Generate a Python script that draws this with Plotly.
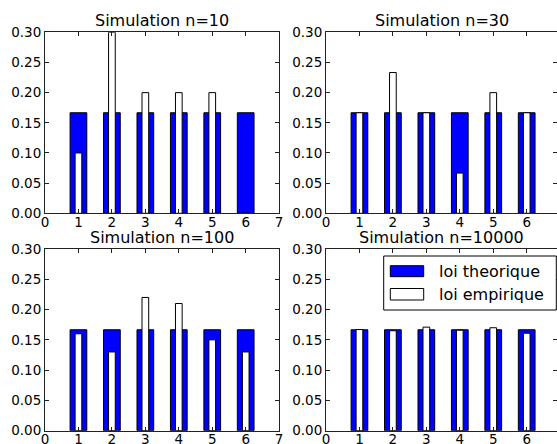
import plotly.graph_objects as go

# ---- data ----
faces = [1, 2, 3, 4, 5, 6]
theorique = [1/6] * 6
titles = ["Simulation n=10", "Simulation n=30", "Simulation n=100", "Simulation n=10000"]
emp_10 = [0.10, 0.30, 0.20, 0.20, 0.20, 0.00]
emp_30 = [5/30, 7/30, 5/30, 2/30, 6/30, 5/30]
emp_100 = [0.16, 0.13, 0.22, 0.21, 0.15, 0.13]
emp_10000 = [0.167, 0.165, 0.171, 0.166, 0.170, 0.161]
empiriques = [emp_10, emp_30, emp_100, emp_10000]
y_ticks = [0.0, 0.05, 0.10, 0.15, 0.20, 0.25, 0.30]
x_ticks = [0, 1, 2, 3, 4, 5, 6, 7]
legend_labels = ["loi theorique", "loi empirique"]

W, H = 557, 444
BLUE = "#0000ff"
FONT = "DejaVu Sans"

def px(x):
    return x / W

def py(y):
    return 1 - y / H

unit = 33.45
panels = [
    (45.0, 45.0 + 7 * unit, 32.3, 213.3, 7),
    (326.0, 557.0, 32.3, 213.3, (557.0 - 326.0) / unit),
    (45.0, 45.0 + 7 * unit, 249.0, 430.7, 7),
    (326.0, 557.0, 249.0, 430.7, (557.0 - 326.0) / unit),
]

fig = go.Figure()
layout = dict(
    width=W, height=H,
    margin=dict(l=0, r=0, t=0, b=0, autoexpand=False),
    paper_bgcolor="white", plot_bgcolor="white",
    barmode="overlay", showlegend=False,
    font=dict(family=FONT, color="black"),
)
annotations = []
shapes = []

for i, (l, r, t, b, xmax) in enumerate(panels):
    k = "" if i == 0 else str(i + 1)
    xa, ya = "x" + k, "y" + k
    fig.add_trace(go.Bar(
        x=faces, y=theorique, width=0.5, xaxis=xa, yaxis=ya,
        marker=dict(color=BLUE, line=dict(color="black", width=1)),
        name=legend_labels[0],
    ))
    fig.add_trace(go.Bar(
        x=faces, y=empiriques[i], width=0.2, xaxis=xa, yaxis=ya,
        marker=dict(color="white", line=dict(color="black", width=1)),
        name=legend_labels[1],
    ))
    axis_common = dict(
        showgrid=False, zeroline=False, showline=True, linecolor="#222",
        linewidth=1, mirror="ticks", ticks="inside", ticklen=4,
        tickcolor="#222", tickwidth=1, automargin=False,
        tickfont=dict(family=FONT, size=13.5, color="black"),
    )
    layout["xaxis" + k] = dict(
        domain=[px(l), px(r)], range=[0, xmax], anchor=ya,
        tickvals=x_ticks, ticktext=[str(v) for v in x_ticks],
        ticklabelstandoff=-4, **axis_common,
    )
    layout["yaxis" + k] = dict(
        domain=[py(b), py(t)], range=[0, 0.30], anchor=xa,
        tickvals=y_ticks, tickformat=".2f", **axis_common,
    )
    cx = (l + min(r, l + 7 * unit)) / 2
    annotations.append(dict(
        text=titles[i], x=px(cx), y=py(t - 11.5), xref="paper", yref="paper",
        xanchor="center", yanchor="middle", showarrow=False,
        font=dict(family=FONT, size=16, color="black"),
    ))

# legend box (drawn manually to mimic matplotlib's legend)
shapes.append(dict(type="rect", xref="paper", yref="paper",
                   x0=px(383.7), x1=px(556.3), y0=py(310), y1=py(256),
                   line=dict(color="black", width=1), fillcolor="white", layer="above"))
shapes.append(dict(type="rect", xref="paper", yref="paper",
                   x0=px(390.3), x1=px(423.7), y0=py(276.7), y1=py(265.7),
                   line=dict(color="black", width=1), fillcolor=BLUE, layer="above"))
shapes.append(dict(type="rect", xref="paper", yref="paper",
                   x0=px(390.3), x1=px(423.7), y0=py(300), y1=py(288.5),
                   line=dict(color="black", width=1), fillcolor="white", layer="above"))
for lab, yc in zip(legend_labels, [271.0, 294.0]):
    annotations.append(dict(
        text=lab, x=px(436.5), y=py(yc), xref="paper", yref="paper",
        xanchor="left", yanchor="middle", showarrow=False,
        font=dict(family=FONT, size=16, color="black"),
    ))

layout["annotations"] = annotations
layout["shapes"] = shapes
fig.update_layout(**layout)
fig.write_html(
    "out.html",
    config={"displayModeBar": False},
    post_script="document.body.style.margin='0';document.body.style.overflow='hidden';",
)
